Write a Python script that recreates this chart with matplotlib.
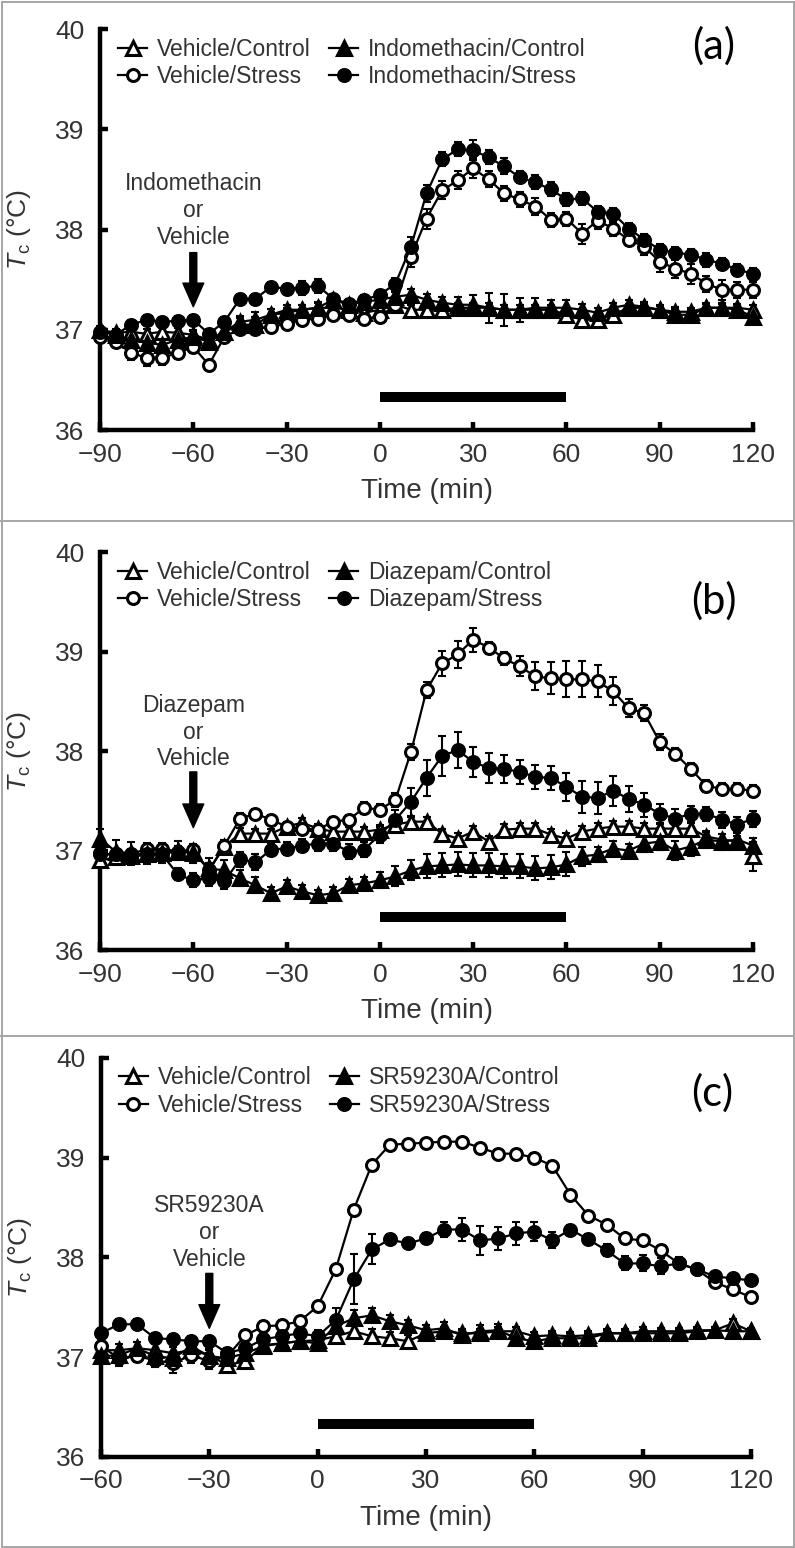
import matplotlib
matplotlib.use("Agg")
import matplotlib.pyplot as plt
from matplotlib.lines import Line2D

plt.rcParams["font.family"] = ["Liberation Sans", "DejaVu Sans"]
plt.rcParams["mathtext.fontset"] = "custom"
plt.rcParams["mathtext.rm"] = "Liberation Sans"
plt.rcParams["mathtext.it"] = "Liberation Sans:italic"

TXT = "#333333"

# ---- data (Tc, deg C), 5-min bins ----
t_ab = list(range(-90, 121, 5))
t_c = list(range(-60, 121, 5))

# (a) indomethacin
a_vc = [37.00, 36.97, 36.98, 36.96, 36.98, 36.97, 36.95, 36.90, 36.98,
        37.08, 37.10, 37.15, 37.17, 37.20, 37.22, 37.22, 37.20, 37.17, 37.20,
        37.25, 37.20, 37.20, 37.20, 37.22, 37.22, 37.22, 37.20, 37.20, 37.20,
        37.20, 37.15, 37.10, 37.10, 37.15, 37.22, 37.22, 37.20, 37.18, 37.18,
        37.22, 37.22, 37.22, 37.20]
a_ic = [37.00, 36.95, 36.90, 36.87, 36.85, 36.90, 36.93, 36.88, 36.98,
        37.05, 37.05, 37.15, 37.20, 37.20, 37.22, 37.30, 37.25, 37.28, 37.30,
        37.33, 37.35, 37.30, 37.27, 37.25, 37.25, 37.22, 37.20, 37.20, 37.22,
        37.22, 37.22, 37.20, 37.17, 37.22, 37.25, 37.23, 37.20, 37.15, 37.15,
        37.22, 37.22, 37.20, 37.13]
a_vs = [36.93, 36.88, 36.77, 36.72, 36.72, 36.77, 36.83, 36.65, 36.93,
        37.01, 37.01, 37.03, 37.06, 37.10, 37.11, 37.15, 37.15, 37.11, 37.13,
        37.25, 37.73, 38.11, 38.39, 38.49, 38.61, 38.50, 38.36, 38.30, 38.23,
        38.10, 38.11, 37.96, 38.09, 38.01, 37.90, 37.83, 37.68, 37.61, 37.56,
        37.46, 37.40, 37.40, 37.40]
a_is = [36.98, 36.95, 37.05, 37.10, 37.08, 37.09, 37.10, 36.96, 37.08,
        37.31, 37.31, 37.43, 37.41, 37.42, 37.44, 37.31, 37.26, 37.30, 37.35,
        37.46, 37.83, 38.36, 38.70, 38.80, 38.79, 38.72, 38.63, 38.52, 38.47,
        38.40, 38.30, 38.31, 38.18, 38.16, 38.01, 37.90, 37.80, 37.77, 37.75,
        37.70, 37.66, 37.60, 37.56]
a_vc_err = [0.03, 0.04, 0.05, 0.05, 0.05, 0.05, 0.05, 0.05, 0.05,
            0.06, 0.08, 0.06, 0.05, 0.05, 0.05, 0.05, 0.05, 0.05, 0.05,
            0.05, 0.05, 0.05, 0.05, 0.05, 0.05, 0.05, 0.05, 0.05, 0.05,
            0.05, 0.05, 0.05, 0.05, 0.04, 0.04, 0.04, 0.04, 0.05, 0.04,
            0.04, 0.04, 0.04, 0.05]
a_ic_err = [0.04, 0.05, 0.05, 0.06, 0.06, 0.05, 0.06, 0.07, 0.05,
            0.07, 0.08, 0.06, 0.05, 0.05, 0.06, 0.05, 0.05, 0.05, 0.05,
            0.05, 0.06, 0.06, 0.06, 0.08, 0.10, 0.15, 0.16, 0.12, 0.10,
            0.08, 0.08, 0.06, 0.05, 0.05, 0.05, 0.05, 0.05, 0.06, 0.05,
            0.05, 0.05, 0.05, 0.06]
a_vs_err = [0.04, 0.05, 0.07, 0.08, 0.07, 0.06, 0.06, 0.05, 0.05,
            0.05, 0.05, 0.05, 0.04, 0.05, 0.05, 0.05, 0.05, 0.05, 0.05,
            0.05, 0.10, 0.10, 0.09, 0.09, 0.10, 0.08, 0.07, 0.07, 0.08,
            0.07, 0.07, 0.10, 0.08, 0.07, 0.06, 0.08, 0.10, 0.09, 0.10,
            0.08, 0.10, 0.08, 0.08]
a_is_err = [0.03, 0.04, 0.05, 0.05, 0.05, 0.05, 0.05, 0.05, 0.05,
            0.05, 0.05, 0.05, 0.05, 0.07, 0.07, 0.05, 0.05, 0.05, 0.05,
            0.06, 0.10, 0.08, 0.07, 0.07, 0.10, 0.07, 0.08, 0.06, 0.07,
            0.07, 0.06, 0.06, 0.06, 0.06, 0.06, 0.06, 0.06, 0.06, 0.06,
            0.07, 0.06, 0.06, 0.06]

# (b) diazepam
b_vc = [36.90, 36.93, 36.94, 36.96, 36.97, 36.99, 37.00, 36.80, 37.04,
        37.17, 37.17, 37.17, 37.24, 37.28, 37.22, 37.19, 37.19, 37.19, 37.21,
        37.26, 37.29, 37.29, 37.17, 37.12, 37.19, 37.09, 37.21, 37.22, 37.22,
        37.16, 37.12, 37.19, 37.22, 37.24, 37.24, 37.22, 37.22, 37.22, 37.22,
        37.14, 37.11, 37.09, 36.94]
b_dc = [37.12, 36.99, 36.97, 36.96, 36.97, 37.00, 36.97, 36.82, 36.80,
        36.72, 36.65, 36.57, 36.64, 36.59, 36.55, 36.57, 36.65, 36.67, 36.70,
        36.74, 36.80, 36.84, 36.85, 36.86, 36.85, 36.85, 36.84, 36.84, 36.82,
        36.83, 36.86, 36.94, 36.96, 37.02, 37.00, 37.07, 37.09, 37.00, 37.04,
        37.11, 37.09, 37.11, 37.05]
b_vs = [36.96, 36.96, 36.96, 37.02, 37.02, 36.99, 37.01, 36.80, 37.05,
        37.32, 37.37, 37.31, 37.24, 37.22, 37.21, 37.29, 37.31, 37.43, 37.41,
        37.51, 37.99, 38.61, 38.88, 38.97, 39.12, 39.04, 38.93, 38.85, 38.75,
        38.73, 38.72, 38.72, 38.70, 38.60, 38.43, 38.38, 38.09, 37.97, 37.82,
        37.65, 37.62, 37.62, 37.60]
b_ds = [36.97, 36.96, 36.94, 36.96, 36.96, 36.76, 36.70, 36.72, 36.69,
        36.91, 36.88, 37.01, 37.02, 37.05, 37.07, 37.07, 36.99, 37.01, 37.16,
        37.31, 37.49, 37.73, 37.95, 38.01, 37.89, 37.83, 37.82, 37.79, 37.74,
        37.73, 37.64, 37.54, 37.53, 37.60, 37.52, 37.46, 37.37, 37.32, 37.37,
        37.37, 37.31, 37.26, 37.32]
b_vc_err = [0.05, 0.05, 0.06, 0.06, 0.06, 0.06, 0.06, 0.06, 0.06,
            0.06, 0.05, 0.05, 0.05, 0.05, 0.05, 0.05, 0.05, 0.05, 0.05,
            0.05, 0.05, 0.05, 0.05, 0.06, 0.06, 0.06, 0.06, 0.06, 0.06,
            0.06, 0.06, 0.06, 0.06, 0.06, 0.06, 0.06, 0.06, 0.06, 0.06,
            0.06, 0.06, 0.06, 0.15]
b_dc_err = [0.10, 0.12, 0.12, 0.10, 0.10, 0.10, 0.10, 0.10, 0.10,
            0.08, 0.08, 0.06, 0.06, 0.06, 0.05, 0.06, 0.06, 0.06, 0.08,
            0.10, 0.10, 0.12, 0.12, 0.12, 0.12, 0.12, 0.12, 0.12, 0.12,
            0.12, 0.12, 0.10, 0.08, 0.08, 0.07, 0.08, 0.08, 0.10, 0.10,
            0.08, 0.08, 0.08, 0.08]
b_vs_err = [0.06, 0.06, 0.06, 0.06, 0.06, 0.06, 0.06, 0.07, 0.06,
            0.06, 0.05, 0.05, 0.05, 0.05, 0.05, 0.05, 0.05, 0.06, 0.06,
            0.07, 0.08, 0.08, 0.13, 0.14, 0.12, 0.06, 0.07, 0.10, 0.14,
            0.16, 0.18, 0.18, 0.16, 0.14, 0.09, 0.08, 0.08, 0.06, 0.06,
            0.06, 0.06, 0.06, 0.06]
b_ds_err = [0.06, 0.06, 0.06, 0.06, 0.06, 0.06, 0.07, 0.08, 0.08,
            0.08, 0.08, 0.07, 0.07, 0.07, 0.07, 0.07, 0.08, 0.08, 0.08,
            0.10, 0.14, 0.18, 0.20, 0.18, 0.15, 0.15, 0.14, 0.12, 0.12,
            0.12, 0.14, 0.16, 0.16, 0.15, 0.13, 0.12, 0.10, 0.10, 0.08,
            0.07, 0.08, 0.08, 0.08]

# (c) SR59230A
c_vc = [37.07, 37.07, 37.09, 37.07, 37.04, 37.07, 37.02, 36.92, 36.96, 37.12,
        37.14, 37.16, 37.17, 37.21, 37.26, 37.21, 37.19, 37.16, 37.24, 37.26,
        37.24, 37.24, 37.26, 37.26, 37.21, 37.22, 37.21, 37.22, 37.24, 37.24,
        37.24, 37.24, 37.24, 37.26, 37.27, 37.34, 37.26]
c_sc = [37.01, 37.02, 37.09, 37.01, 36.99, 37.11, 37.01, 36.99, 37.04, 37.11,
        37.14, 37.16, 37.14, 37.31, 37.39, 37.42, 37.36, 37.32, 37.27, 37.29,
        37.22, 37.26, 37.27, 37.19, 37.16, 37.19, 37.19, 37.19, 37.24, 37.24,
        37.26, 37.26, 37.26, 37.27, 37.27, 37.26, 37.26]
c_vs = [37.11, 36.99, 37.01, 36.97, 36.94, 37.02, 36.96, 37.01, 37.22, 37.31,
        37.32, 37.36, 37.51, 37.88, 38.48, 38.93, 39.13, 39.14, 39.15, 39.16,
        39.16, 39.10, 39.04, 39.04, 39.00, 38.92, 38.63, 38.42, 38.33, 38.19,
        38.17, 38.07, 37.94, 37.88, 37.75, 37.68, 37.60]
c_ss = [37.24, 37.33, 37.33, 37.19, 37.18, 37.16, 37.16, 37.04, 37.09, 37.18,
        37.21, 37.24, 37.21, 37.37, 37.78, 38.08, 38.18, 38.14, 38.19, 38.28,
        38.28, 38.17, 38.19, 38.24, 38.26, 38.17, 38.28, 38.18, 38.07, 37.94,
        37.94, 37.91, 37.94, 37.88, 37.81, 37.79, 37.77]
c_vc_err = [0.06, 0.06, 0.06, 0.06, 0.06, 0.06, 0.06, 0.05, 0.05, 0.05,
            0.05, 0.05, 0.05, 0.06, 0.07, 0.07, 0.06, 0.06, 0.04, 0.04,
            0.04, 0.04, 0.04, 0.04, 0.04, 0.04, 0.04, 0.04, 0.03, 0.03,
            0.03, 0.03, 0.03, 0.03, 0.03, 0.04, 0.03]
c_sc_err = [0.05, 0.05, 0.06, 0.06, 0.06, 0.06, 0.06, 0.06, 0.05, 0.05,
            0.06, 0.05, 0.05, 0.08, 0.08, 0.07, 0.06, 0.05, 0.05, 0.06,
            0.05, 0.06, 0.06, 0.05, 0.05, 0.05, 0.05, 0.05, 0.04, 0.04,
            0.04, 0.03, 0.03, 0.03, 0.03, 0.03, 0.03]
c_vs_err = [0.07, 0.08, 0.06, 0.07, 0.10, 0.08, 0.08, 0.07, 0.05, 0.05,
            0.05, 0.04, 0.04, 0.04, 0.04, 0.04, 0.03, 0.03, 0.03, 0.03,
            0.03, 0.04, 0.03, 0.03, 0.05, 0.05, 0.03, 0.03, 0.03, 0.03,
            0.03, 0.03, 0.03, 0.03, 0.04, 0.04, 0.04]
c_ss_err = [0.05, 0.05, 0.05, 0.05, 0.05, 0.05, 0.05, 0.05, 0.05, 0.05,
            0.05, 0.05, 0.06, 0.12, 0.25, 0.15, 0.05, 0.05, 0.05, 0.08,
            0.12, 0.15, 0.12, 0.12, 0.10, 0.08, 0.05, 0.05, 0.06, 0.07,
            0.08, 0.08, 0.06, 0.05, 0.04, 0.04, 0.04]

panels = [
    dict(rect=[0.1258, 0.7222, 0.8214, 0.2590], t=t_ab, xlim=(-90, 120),
         drug="Indomethacin", inject=-60,
         series=[(a_vc, a_vc_err), (a_vs, a_vs_err), (a_ic, a_ic_err), (a_is, a_is_err)],
         arrow=(37.77, 37.23), txt_y=38.19, tag="(a)", tag_xy=(0.898, 0.970)),
    dict(rect=[0.1258, 0.3863, 0.8214, 0.2571], t=t_ab, xlim=(-90, 120),
         drug="Diazepam", inject=-60,
         series=[(b_vc, b_vc_err), (b_vs, b_vs_err), (b_dc, b_dc_err), (b_ds, b_ds_err)],
         arrow=(37.79, 37.23), txt_y=38.19, tag="(b)", tag_xy=(0.898, 0.612)),
    dict(rect=[0.1270, 0.0588, 0.8176, 0.2578], t=t_c, xlim=(-60, 120),
         drug="SR59230A", inject=-30,
         series=[(c_vc, c_vc_err), (c_vs, c_vs_err), (c_sc, c_sc_err), (c_ss, c_ss_err)],
         arrow=(37.84, 37.29), txt_y=38.25, tag="(c)", tag_xy=(0.896, 0.294)),
]

styles = [("^", "white", 10.5), ("o", "white", 8.6), ("^", "black", 10.5), ("o", "black", 8.6)]

fig = plt.figure(figsize=(7.95, 15.48), dpi=100)

for p in panels:
    ax = fig.add_axes(p["rect"])
    t = p["t"]
    labels = ["Vehicle/Control", "Vehicle/Stress",
              p["drug"] + "/Control", p["drug"] + "/Stress"]
    handles = []
    for (vals, err), (mk, fc, ms), lab in zip(p["series"], styles, labels):
        ax.errorbar(t, vals, yerr=err, fmt="none", ecolor="black", elinewidth=1.5,
                    capsize=2.8, capthick=1.5, zorder=2, clip_on=False)
        ln, = ax.plot(t, vals, color="black", lw=1.6, marker=mk, ms=ms,
                      mfc=fc, mec="black", mew=2.2, zorder=3, clip_on=False, label=lab)
        handles.append(ln)

    # stress period
    ax.plot([0, 60], [36.33, 36.33], color="black", lw=7.2, solid_capstyle="butt")

    # injection arrow
    y0, y1 = p["arrow"]
    ax.annotate("", xy=(p["inject"], y1), xytext=(p["inject"], y0),
                arrowprops=dict(facecolor="black", edgecolor="black", width=5,
                                headwidth=15, headlength=17, shrink=0))
    ax.text(p["inject"], p["txt_y"], p["drug"] + "\nor\nVehicle", ha="center", va="center",
            fontsize=16.5, color=TXT, linespacing=1.2)

    ax.set_xlim(*p["xlim"])
    ax.set_ylim(36, 40)
    ax.set_xticks(range(p["xlim"][0], 121, 30))
    ax.set_yticks([36, 37, 38, 39, 40])
    for s in ["top", "right"]:
        ax.spines[s].set_visible(False)
    for s in ["left", "bottom"]:
        ax.spines[s].set_linewidth(3.2)
    ax.tick_params(direction="in", length=6, width=3.2, labelsize=19,
                   labelcolor=TXT)
    ax.tick_params(axis="y", pad=11)
    ax.tick_params(axis="x", pad=9)

    ax.set_xlabel("Time (min)", fontsize=20, color=TXT, va="baseline")
    ax.xaxis.set_label_coords(0.5, -0.170)
    ax.set_ylabel(r"$T_{\mathrm{c}}$ (°C)", fontsize=19, color=TXT)
    ax.yaxis.set_label_coords(-0.103, 0.5)

    ax.legend(handles=handles, ncol=2, loc="upper left", bbox_to_anchor=(0.02, 0.990),
              frameon=False, fontsize=16.5, handlelength=1.3, handletextpad=0.4,
              columnspacing=0.8, labelspacing=0.2, borderpad=0.2, borderaxespad=0,
              labelcolor=TXT)

    fig.text(p["tag_xy"][0], p["tag_xy"][1], p["tag"], fontsize=30, family="Lato",
             ha="center", va="center", color="black")

# gray panel frames
gray = "#a6a6a6"
W, H = 795.0, 1548.0
for y in [521, 1036]:
    fig.add_artist(Line2D([0, 1], [1 - y / H, 1 - y / H], transform=fig.transFigure,
                          color=gray, lw=1.4))
fig.add_artist(plt.Rectangle((1.5 / W, 1.5 / H), 1 - 3 / W, 1 - 3 / H, transform=fig.transFigure,
                             fill=False, edgecolor=gray, lw=1.4))

plt.savefig("out.png", dpi=100)
